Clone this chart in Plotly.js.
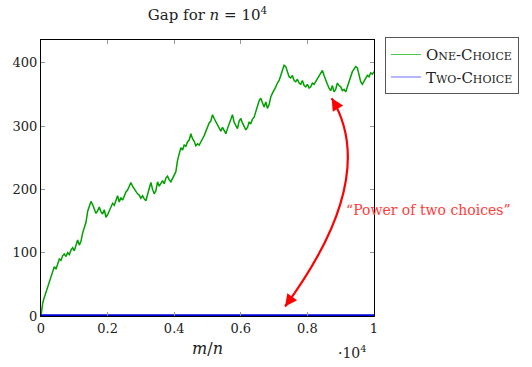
<!DOCTYPE html>
<html>
<head>
<meta charset="utf-8">
<script src="https://cdn.plot.ly/plotly-3.0.1.min.js"></script>
<style>html,body{margin:0;padding:0;background:#fff;}#chart{width:532px;height:367px;}</style>
</head>
<body>
<div id="chart"></div>
<script>
const oneChoiceX = [0,20,50,80,120,160,200,250,300,350,400,450,500,550,600,650,700,750,800,850,900,950,1000,1050,1100,1150,1200,1250,1300,1350,1400,1450,1500,1550,1600,1650,1700,1750,1800,1850,1900,1950,2000,2050,2100,2150,2200,2250,2300,2350,2400,2450,2500,2550,2600,2650,2700,2750,2800,2850,2900,2950,3000,3050,3100,3150,3200,3250,3300,3350,3400,3450,3500,3550,3600,3650,3700,3750,3800,3850,3900,3950,4000,4050,4100,4150,4200,4250,4300,4350,4400,4450,4500,4550,4600,4650,4700,4750,4800,4850,4900,4950,5000,5050,5100,5150,5200,5250,5300,5350,5400,5450,5500,5550,5600,5650,5700,5750,5800,5850,5900,5950,6000,6050,6100,6150,6200,6250,6300,6350,6400,6450,6500,6550,6600,6650,6700,6750,6800,6850,6900,6950,7000,7050,7100,7150,7200,7250,7300,7350,7400,7450,7500,7550,7600,7650,7700,7750,7800,7850,7900,7950,8000,8050,8100,8150,8200,8250,8300,8350,8400,8450,8500,8550,8600,8650,8700,8750,8800,8850,8900,8950,9000,9050,9100,9150,9200,9250,9300,9350,9400,9450,9500,9550,9600,9650,9700,9750,9800,9850,9900,9950,10000];
const oneChoiceY = [0,12,20,26,33,40,47,55,62,70,78,74,84,90,88,95,98,94,100,97,104,108,103,114,120,112,118,131,140,148,165,172,181,176,170,162,166,172,165,161,168,156,160,167,173,178,175,183,190,180,187,183,190,196,199,204,211,205,200,197,193,191,186,190,185,182,192,204,211,200,193,198,212,205,210,214,209,218,221,215,212,218,224,228,246,258,266,262,270,268,275,278,288,280,276,269,272,270,276,280,285,291,298,305,308,318,312,307,303,296,292,298,293,288,296,304,310,318,306,300,296,308,312,305,300,294,298,306,304,311,314,324,330,340,344,336,330,338,328,334,346,352,356,362,368,372,380,390,396,394,384,378,376,380,372,370,374,368,366,372,364,362,366,360,362,368,366,370,374,378,384,388,380,372,366,360,356,364,354,358,368,364,362,356,358,354,362,372,380,386,390,394,392,382,370,366,370,374,380,378,384,382,386];
const twoChoiceX = [0,10000];
const twoChoiceY = [0.8,0.8];
const seriesNames = ['One-Choice', 'Two-Choice'];
const xTickVals = [0,2000,4000,6000,8000,10000];
const xTickText = ['0','0.2','0.4','0.6','0.8','1'];
const yTickVals = [0,100,200,300,400];

const serif = 'DejaVu Serif';
const traces = [
  {x: oneChoiceX, y: oneChoiceY, mode: 'lines', name: seriesNames[0], showlegend: false,
   line: {color: 'rgb(0,160,0)', width: 1.5}},
  {x: twoChoiceX, y: twoChoiceY, mode: 'lines', name: seriesNames[1], showlegend: false,
   line: {color: 'rgb(0,0,220)', width: 2.6}},
  {x: [null], y: [null], mode: 'lines', name: seriesNames[0], showlegend: true,
   line: {color: 'rgb(80,200,80)', width: 1.2}},
  {x: [null], y: [null], mode: 'lines', name: seriesNames[1], showlegend: true,
   line: {color: 'rgb(110,110,255)', width: 1.2}}
];
const layout = {
  width: 532, height: 367,
  margin: {l: 41, r: 158, t: 40, b: 51},
  paper_bgcolor: '#fff', plot_bgcolor: '#fff',
  font: {family: serif, size: 13, color: '#222'},
  title: {text: 'Gap for <i>n</i> = 10<sup>4</sup>', x: 0.39, xanchor: 'center', y: 0.96, yanchor: 'middle',
          font: {family: serif, size: 15, color: '#222'}},
  xaxis: {range: [0, 10000], tickvals: xTickVals, ticktext: xTickText,
          ticks: 'inside', ticklen: 4, tickcolor: '#999', mirror: 'ticks',
          showline: true, linecolor: '#000', linewidth: 1, showgrid: false, zeroline: false,
          title: {text: '<i>m</i>/<i>n</i>', standoff: 8, font: {family: serif, size: 16}},
          tickfont: {family: serif, size: 13}},
  yaxis: {range: [0, 436], tickvals: yTickVals,
          ticks: 'inside', ticklen: 4, tickcolor: '#999', mirror: 'ticks',
          showline: true, linecolor: '#000', linewidth: 1, showgrid: false, zeroline: false,
          tickfont: {family: serif, size: 13}},
  showlegend: true,
  legend: {x: 1.033, y: 1.01, xanchor: 'left', yanchor: 'top',
           bordercolor: '#555', borderwidth: 1, bgcolor: '#fff',
           font: {family: serif, size: 15, variant: 'small-caps', color: '#222'},
           tracegroupgap: 0, itemwidth: 30},
  shapes: [
    {type: 'path', xref: 'x', yref: 'y',
     path: 'M 7330,15 Q 10171,219 8730,344',
     line: {color: 'rgb(255,0,0)', width: 2.2}}
  ],
  annotations: [
    {xref: 'x', yref: 'y', x: 7330, y: 15, ax: 8, ay: -11,
     showarrow: true, arrowhead: 2, arrowsize: 1.1, arrowwidth: 2.2, arrowcolor: 'rgb(255,0,0)', text: ' '},
    {xref: 'x', yref: 'y', x: 8730, y: 344, ax: 6, ay: 10,
     showarrow: true, arrowhead: 2, arrowsize: 1.1, arrowwidth: 2.2, arrowcolor: 'rgb(255,0,0)', text: ' '},
    {xref: 'paper', yref: 'paper', x: 1.165, y: 0.384, xanchor: 'center', yanchor: 'middle',
     showarrow: false, text: '\u201CPower of two choices\u201D',
     font: {family: serif, size: 14, color: 'rgb(255,60,60)'}},
    {xref: 'paper', yref: 'paper', x: 0.985, y: -0.13, xanchor: 'right', yanchor: 'middle',
     showarrow: false, text: '\u00B710<sup>4</sup>',
     font: {family: serif, size: 14, color: '#222'}}
  ]
};
Plotly.newPlot('chart', traces, layout, {displayModeBar: false, staticPlot: true});
</script>
</body>
</html>
